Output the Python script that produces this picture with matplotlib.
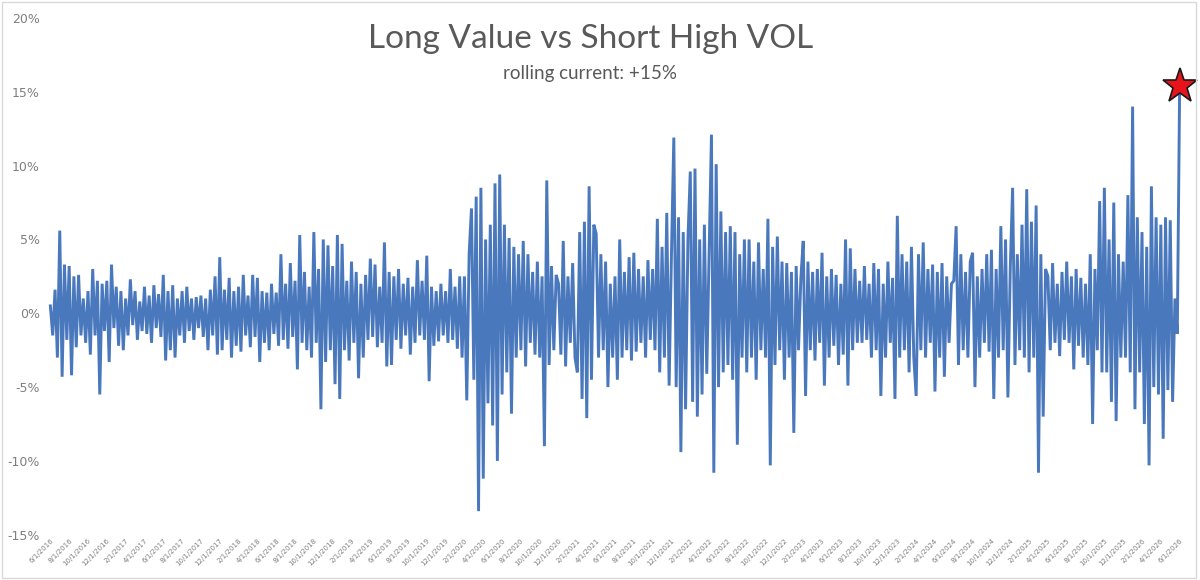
import numpy as np
import matplotlib.pyplot as plt
from matplotlib.patches import Rectangle
from matplotlib.ticker import FuncFormatter

# x-axis labels, one every two months (8 points per label step)
tick_labels = [
    "6/1/2016", "8/1/2016", "10/1/2016", "12/1/2016",
    "2/1/2017", "4/1/2017", "6/1/2017", "8/1/2017", "10/1/2017", "12/1/2017",
    "2/1/2018", "4/1/2018", "6/1/2018", "8/1/2018", "10/1/2018", "12/1/2018",
    "2/1/2019", "4/1/2019", "6/1/2019", "8/1/2019", "10/1/2019", "12/1/2019",
    "2/1/2020", "4/1/2020", "6/1/2020", "8/1/2020", "10/1/2020", "12/1/2020",
    "2/1/2021", "4/1/2021", "6/1/2021", "8/1/2021", "10/1/2021", "12/1/2021",
    "2/1/2022", "4/1/2022", "6/1/2022", "8/1/2022", "10/1/2022", "12/1/2022",
    "2/1/2023", "4/1/2023", "6/1/2023", "8/1/2023", "10/1/2023", "12/1/2023",
    "2/1/2024", "4/1/2024", "6/1/2024", "8/1/2024", "10/1/2024", "12/1/2024",
    "2/1/2025", "4/1/2025", "6/1/2025", "8/1/2025", "10/1/2025", "12/1/2025",
    "2/1/2026", "4/1/2026", "6/1/2026",
]
points_per_label = 8

# rolling spread (%), 8 readings per two-month step
spread_2016 = [
    0.5, -1.5, 1.6, -3.0, 5.6, -4.3, 3.3, -1.8,
    3.2, -4.2, 2.5, -2.3, 2.6, -1.5, 1.0, -2.0,
    1.5, -2.8, 3.0, -1.5, 2.2, -5.5, 2.0, -1.2,
    2.2, -3.3, 3.3, -1.0, 1.8, -2.2, 1.5, -2.5,
]
spread_2017 = [
    1.0, -1.5, 2.3, -0.8, 1.5, -1.8, 0.8, -1.2,
    1.8, -1.4, 1.2, -2.0, 1.9, -1.0, 1.3, -1.6,
    2.6, -3.2, 1.5, -2.5, 1.9, -3.0, 1.0, -1.5,
    1.5, -2.0, 1.8, -1.2, 1.0, -1.8, 1.1, -1.0,
    1.2, -1.6, 1.0, -2.5, 1.6, -1.5, 2.5, -2.8,
    3.8, -2.5, 1.6, -1.8, 2.4, -3.0, 1.5, -2.2,
]
spread_2018 = [
    1.8, -2.6, 2.6, -1.5, 1.2, -2.3, 2.6, -1.6,
    2.4, -3.3, 1.5, -2.0, 1.4, -2.5, 2.0, -1.4,
    1.4, -2.2, 4.0, -1.8, 2.0, -2.4, 3.4, -1.6,
    2.2, -3.8, 5.3, -2.0, 2.8, -2.5, 1.8, -3.0,
    5.5, -2.0, 3.0, -6.5, 5.0, -3.3, 4.6, -2.5,
    3.2, -4.8, 5.3, -5.8, 4.7, -2.5, 2.2, -3.2,
]
spread_2019 = [
    3.5, -2.0, 2.8, -4.4, 2.0, -3.0, 2.6, -1.8,
    3.7, -1.6, 3.3, -2.3, 1.8, -2.0, 4.8, -3.6,
    2.8, -3.5, 2.5, -1.8, 3.0, -2.4, 2.0, -1.5,
    2.4, -2.8, 1.8, -2.0, 3.6, -1.5, 2.2, -1.8,
    3.9, -4.6, 1.8, -2.2, 1.5, -1.9, 2.0, -1.5,
    1.5, -2.0, 3.0, -1.8, 1.8, -2.4, 2.5, -3.0,
]
spread_2020 = [
    2.5, -5.9, 4.0, 7.1, -4.5, 7.9, -13.4, 8.5,
    -11.2, 5.0, -6.1, 6.0, -7.6, 8.8, -10.0, 9.4,
    -5.5, 6.0, -4.0, 5.1, -6.8, 4.5, -3.0, 4.0,
    -2.5, 4.9, -3.6, 4.0, -2.0, 2.8, -2.8, 3.5,
    -3.0, 2.5, -9.0, 9.0, -3.5, 3.2, -2.5, 2.6,
    2.0, -2.8, 4.9, -3.6, 2.5, -2.0, 3.4, -3.0,
]
spread_2021 = [
    -4.0, 5.5, -5.8, 6.2, -7.1, 8.6, -4.5, 6.0,
    5.4, -3.0, 4.0, -2.5, 3.5, -5.0, 2.0, -3.0,
    2.5, -4.5, 5.0, -3.0, 2.8, -2.5, 3.8, -3.2,
    4.1, -2.6, 3.0, -2.0, 2.5, -3.0, 3.6, -1.8,
    3.0, -2.5, 6.4, -4.0, 4.5, -3.0, 6.8, -4.9,
    4.0, 11.9, -5.0, 6.5, -9.4, 5.5, -6.5, 5.0,
]
spread_2022 = [
    9.6, -6.0, 9.8, -7.0, 5.0, -5.5, 6.0, -4.1,
    4.0, 12.1, -10.8, 10.1, -5.0, 6.9, -4.0, 5.5,
    -3.5, 5.9, -4.5, 5.5, -8.9, 4.0, -3.0, 5.0,
    -4.0, 5.0, -3.0, 3.5, -4.5, 4.8, -2.5, 3.0,
    -3.0, 6.4, -10.3, 4.5, -3.5, 5.2, -2.5, 3.5,
    -4.5, 3.4, -3.0, 2.8, -8.1, 3.2, -2.5, 2.4,
]
spread_2023 = [
    4.9, -5.6, 3.5, -2.5, 2.8, -3.2, 3.0, -2.0,
    4.1, -4.9, 2.5, -3.0, 3.0, -2.2, 2.6, -3.5,
    2.0, -2.8, 5.0, -4.9, 4.4, -2.5, 3.0, -2.0,
    2.2, -2.0, 3.2, -1.8, 2.0, -3.0, 3.4, -2.5,
    3.0, -5.6, 2.0, -3.0, 3.5, -2.0, 2.4, -5.8,
    6.6, -3.0, 4.0, -2.5, 3.5, -4.0, 4.5, -3.0,
]
spread_2024 = [
    -5.6, 4.0, -2.5, 4.8, -3.0, 3.0, -2.0, 3.3,
    -5.3, 2.8, -3.0, 3.4, -4.3, 2.5, -2.0, 2.0,
    2.2, 5.9, -3.5, 4.0, -2.5, 2.8, -3.0, 3.5,
    4.1, -5.0, 2.5, -3.0, 3.0, -2.0, 4.0, -2.6,
    4.3, -5.8, 3.0, -3.0, 5.9, -2.5, 5.0, -5.7,
    3.0, 8.5, -3.5, 4.0, -2.5, 6.0, -3.0, 8.4,
]
spread_2025 = [
    -4.0, 6.2, -3.0, 7.3, -10.8, 4.0, -7.0, 3.0,
    2.5, -2.5, 3.4, -2.0, 2.0, -2.9, 2.8, -1.8,
    3.5, -2.0, 2.5, -3.8, 3.0, -2.2, 2.4, -3.0,
    2.0, -3.5, 4.0, -7.5, 3.0, -2.5, 7.6, -4.0,
    8.5, -4.0, 5.0, -6.0, 7.5, -7.3, 4.0, -3.0,
    3.5, -3.0, 8.0, -4.0, 14.0, -6.5, 6.5, -4.0,
]
spread_2026 = [
    5.5, -7.5, 4.5, -10.3, 8.6, -5.0, 6.5, -5.5,
    6.0, -8.5, 6.5, -5.2, 6.3, -6.0, 1.0, -1.4,
]
current_value = 15.4

spread = np.array(spread_2016 + spread_2017 + spread_2018 + spread_2019
                  + spread_2020 + spread_2021 + spread_2022 + spread_2023
                  + spread_2024 + spread_2025 + spread_2026 + [current_value])
x = np.arange(len(spread))

fig = plt.figure(figsize=(12, 5.8), dpi=100)
ax = fig.add_axes([0.04, 0.078, 0.945, 0.891])

ax.plot(x, spread, color="#4a78bd", lw=2.1, solid_joinstyle="miter")
ax.plot(x[-1], spread[-1], marker="*", markersize=26, color="#e8141b",
        markeredgecolor="#1a1a1a", markeredgewidth=1.2, zorder=5, clip_on=False)

ax.set_ylim(-15, 20)
ax.set_yticks(np.arange(-15, 21, 5))
ax.yaxis.set_major_formatter(FuncFormatter(lambda v, p: f"{v:.0f}%"))
ax.set_xlim(-1, len(spread))
ax.set_xticks(np.arange(len(tick_labels)) * points_per_label)
ax.set_xticklabels(tick_labels, rotation=45, ha="right", rotation_mode="anchor",
                   fontsize=5, color="#7f7f7f")
ax.tick_params(axis="y", labelsize=9, colors="#7f7f7f", length=0, pad=6)
ax.tick_params(axis="x", length=0, pad=2)
for s in ax.spines.values():
    s.set_visible(False)

fig.text(0.492, 0.933, "Long Value vs Short High VOL", ha="center", va="center",
         fontsize=24, color="#595959", family=["Lato", "DejaVu Sans"])
fig.text(0.492, 0.874, "rolling current: +15%", ha="center", va="center",
         fontsize=13.5, color="#595959", family=["Lato", "DejaVu Sans"])

fig.patches.append(Rectangle((0.002, 0.004), 0.995, 0.992, transform=fig.transFigure,
                             fill=False, edgecolor="#d9d9d9", lw=1))

fig.savefig("out.png", dpi=100)
plt.close(fig)
